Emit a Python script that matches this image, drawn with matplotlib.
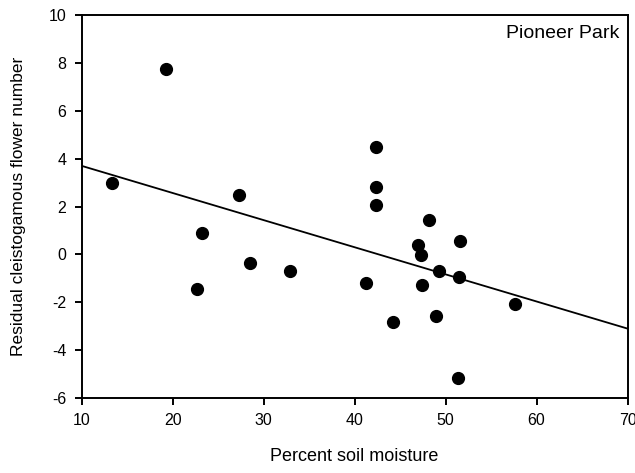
import matplotlib
matplotlib.use("Agg")
import matplotlib.pyplot as plt
import numpy as np

plt.rcParams['font.family'] = ['Liberation Sans', 'DejaVu Sans']
plt.rcParams['axes.unicode_minus'] = False

# soil moisture (%) vs residual cleistogamous flower number
moisture = [13.3, 19.3, 27.3, 23.2, 22.7, 28.5, 32.9, 42.3, 42.3, 42.4, 48.2,
            47.0, 47.3, 51.6, 49.3, 51.5, 41.2, 47.4, 57.6, 44.2, 49.0, 51.4]
residual = [2.97, 7.74, 2.47, 0.9, -1.46, -0.36, -0.7, 4.5, 2.83, 2.05, 1.42,
            0.41, -0.01, 0.54, -0.7, -0.96, -1.19, -1.26, -2.06, -2.83, -2.57, -5.15]

# fitted regression line end points
fit_x = [10, 70]
fit_y = [3.7, -3.1]

fig = plt.figure(figsize=(6.35, 4.73), dpi=100)
ax = fig.add_axes([0.1287, 0.1586, 0.8595, 0.8094])

ax.plot(fit_x, fit_y, color='black', linewidth=1.3)
ax.plot(moisture, residual, 'o', color='black', markersize=8.5)

ax.set_xlim(10, 70)
ax.set_ylim(-6, 10)
ax.set_xticks(np.arange(10, 71, 10))
ax.set_yticks(np.arange(-6, 11, 2))
ax.tick_params(direction='out', length=5, width=1.4, labelsize=11.5, pad=6)

for s in ax.spines.values():
    s.set_linewidth(1.4)

ax.set_xlabel('Percent soil moisture', fontsize=13, labelpad=14)
ax.set_ylabel('Residual cleistogamous flower number', fontsize=12.5, labelpad=16)

ax.text(0.985, 0.975, 'Pioneer Park', transform=ax.transAxes,
        ha='right', va='top', fontsize=14)

fig.savefig('out.png', dpi=100)
